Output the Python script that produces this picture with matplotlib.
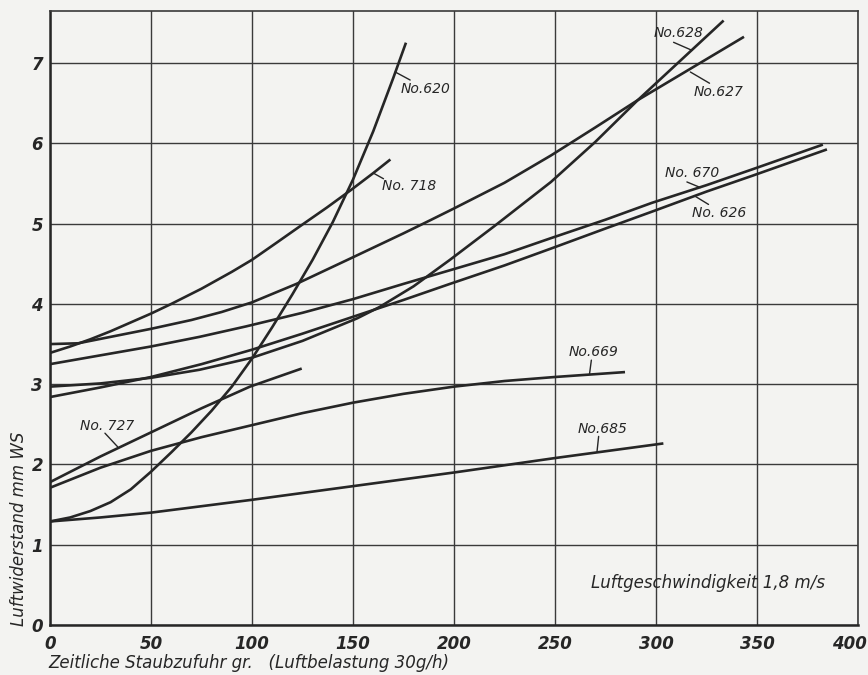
import matplotlib
matplotlib.use("Agg")
import matplotlib.pyplot as plt
import matplotlib.transforms as mtransforms
import numpy as np

# Luftwiderstand ueber Staubzufuhr
x_620 = [0, 10, 20, 30, 40, 50, 60, 70, 80, 90, 100, 110, 120, 130, 140, 150, 160, 170, 176]
y_620 = [1.29, 1.34, 1.42, 1.53, 1.69, 1.91, 2.15, 2.40, 2.67, 2.97, 3.32, 3.71, 4.12, 4.55, 5.02, 5.55, 6.15, 6.82, 7.24]

x_718 = [0, 10, 20, 30, 40, 50, 60, 75, 90, 100, 112, 125, 137, 149, 160, 168]
y_718 = [3.39, 3.47, 3.56, 3.66, 3.77, 3.88, 4.00, 4.19, 4.40, 4.55, 4.76, 4.99, 5.20, 5.42, 5.63, 5.79]

x_627 = [0, 14, 30, 50, 70, 85, 100, 122, 149, 175, 188, 200, 225, 248, 270, 291, 317, 343]
y_627 = [3.50, 3.51, 3.59, 3.69, 3.80, 3.90, 4.02, 4.25, 4.57, 4.88, 5.04, 5.19, 5.51, 5.85, 6.20, 6.54, 6.93, 7.32]

x_628 = [0, 25, 50, 74, 100, 125, 152, 163, 180, 198, 220, 248, 270, 291, 312, 333]
y_628 = [2.97, 3.01, 3.08, 3.18, 3.33, 3.54, 3.82, 3.96, 4.22, 4.55, 4.97, 5.52, 6.02, 6.54, 7.03, 7.52]

x_670 = [0, 25, 50, 74, 97, 125, 150, 175, 198, 225, 248, 275, 298, 325, 348, 382]
y_670 = [3.25, 3.36, 3.47, 3.59, 3.72, 3.89, 4.06, 4.25, 4.42, 4.62, 4.82, 5.05, 5.26, 5.48, 5.68, 5.98]

x_626 = [0, 25, 50, 75, 100, 125, 150, 175, 198, 225, 248, 275, 298, 325, 348, 384]
y_626 = [2.84, 2.96, 3.09, 3.25, 3.43, 3.63, 3.84, 4.05, 4.25, 4.48, 4.69, 4.94, 5.15, 5.40, 5.60, 5.92]

x_669 = [0, 25, 50, 75, 100, 125, 150, 175, 200, 225, 250, 284]
y_669 = [1.71, 1.96, 2.17, 2.34, 2.49, 2.64, 2.77, 2.88, 2.97, 3.04, 3.09, 3.15]

x_685 = [0, 25, 50, 100, 150, 200, 250, 303]
y_685 = [1.29, 1.34, 1.40, 1.56, 1.73, 1.90, 2.08, 2.26]

x_727 = [0, 25, 50, 75, 99, 124]
y_727 = [1.78, 2.10, 2.40, 2.70, 2.97, 3.19]

curves = [(x_620, y_620), (x_718, y_718), (x_627, y_627), (x_628, y_628),
          (x_670, y_670), (x_626, y_626), (x_669, y_669), (x_685, y_685),
          (x_727, y_727)]

# Beschriftungen: Text, Textposition, Anfang und Ende des Hinweisstrichs
labels = ["No.620", "No. 718", "No.628", "No.627", "No. 670", "No. 626", "No.669", "No.685", "No. 727"]
label_pos = [(173.5, 6.68), (164.5, 5.47), (299, 7.38), (318.5, 6.64), (304.5, 5.63),
             (318, 5.13), (256.5, 3.40), (261, 2.44), (15, 2.48)]
leader_from = [(170.9, 6.89), (160.1, 5.63), (317.8, 7.16), (317.0, 6.89), (322.0, 5.45),
               (319.5, 5.34), (267.1, 3.13), (270.8, 2.16), (33.5, 2.22)]
leader_to = [(178.3, 6.79), (165.1, 5.56), (308.7, 7.26), (326.5, 6.75), (315.3, 5.52),
             (326.0, 5.24), (268.0, 3.30), (271.6, 2.35), (27.2, 2.39)]

x_ticks = [0, 50, 100, 150, 200, 250, 300, 350, 400]
y_ticks = [0, 1, 2, 3, 4, 5, 6, 7]

bg = "#f3f3f1"
ink = "#262626"

fig = plt.figure(figsize=(8.68, 6.75), dpi=100, facecolor=bg)
ax = fig.add_axes([50 / 868, 1 - 625 / 675, 808 / 868, 614 / 675])
ax.set_facecolor(bg)

for xs, ys in curves:
    ax.plot(xs, ys, color=ink, lw=1.9, solid_joinstyle="round", zorder=3)

for txt, (tx, ty), p0, p1 in zip(labels, label_pos, leader_from, leader_to):
    ax.annotate("", xy=p0, xytext=p1,
                arrowprops=dict(arrowstyle="-", color=ink, lw=1.0, shrinkA=0, shrinkB=0))
    ax.text(tx, ty, txt, fontsize=10, style="italic", color=ink, ha="left", va="center")

ax.text(268, 0.52, "Luftgeschwindigkeit 1,8 m/s", fontsize=12, style="italic",
        color=ink, ha="left", va="center")

ax.set_xlim(0, 400)
ax.set_ylim(0, 7.65)
ax.set_xticks(x_ticks)
ax.set_yticks(y_ticks)
ax.set_xticklabels([str(v) for v in x_ticks], fontsize=12, style="italic", weight="bold", color=ink)
ax.set_yticklabels([str(v) for v in y_ticks], fontsize=12, style="italic", weight="bold", color=ink)
ax.tick_params(axis="y", length=0, pad=5)
ax.tick_params(axis="x", length=0, pad=7)
# letzte Zahl etwas nach links, damit sie nicht abgeschnitten wird
last = ax.get_xticklabels()[-1]
last.set_transform(last.get_transform() + mtransforms.ScaledTranslation(-6 / 72, 0, fig.dpi_scale_trans))

ax.grid(True, color="#3a3a3a", lw=1.0)
ax.set_axisbelow(True)
for side in ["left", "bottom"]:
    ax.spines[side].set_linewidth(1.8)
    ax.spines[side].set_color(ink)
for side in ["top", "right"]:
    ax.spines[side].set_linewidth(1.2)
    ax.spines[side].set_color("#3a3a3a")

fig.text(48 / 868, 1 - 663 / 675, "Zeitliche Staubzufuhr gr.   (Luftbelastung 30g/h)",
         fontsize=12, style="italic", color=ink, ha="left", va="center")
fig.text(19 / 868, 1 - 529 / 675, "Luftwiderstand mm WS", fontsize=12, style="italic",
         color=ink, ha="center", va="center", rotation=90)

fig.savefig("out.png", dpi=100, facecolor=bg)
